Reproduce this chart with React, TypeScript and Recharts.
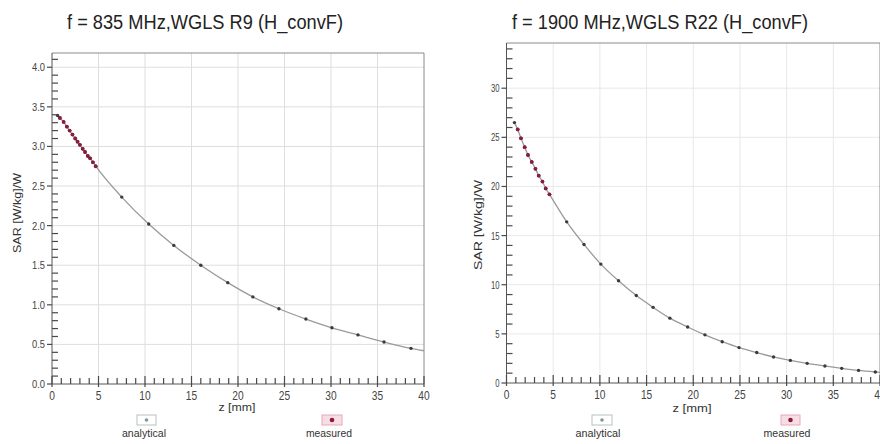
import React from 'react';
import { ComposedChart, Line, Scatter, XAxis, YAxis, ReferenceLine } from 'recharts';

// ---------- data ----------
const zMajorTicks = [0, 5, 10, 15, 20, 25, 30, 35, 40];
const leftYMajorTicks = [0, 0.5, 1.0, 1.5, 2.0, 2.5, 3.0, 3.5, 4.0];
const rightYMajorTicks = [0, 5, 10, 15, 20, 25, 30];

const leftTitle = 'f = 835 MHz,WGLS R9 (H_convF)';
const rightTitle = 'f = 1900 MHz,WGLS R22 (H_convF)';
const yAxisTitle = 'SAR [W/kg]/W';
const xAxisTitle = 'z [mm]';
const legendNames = ['analytical', 'measured'];

const left835Measured = [
  { z: 0.85, sar: 3.36 }, { z: 1.25, sar: 3.31 }, { z: 1.6, sar: 3.25 }, { z: 1.9, sar: 3.2 },
  { z: 2.2, sar: 3.15 }, { z: 2.5, sar: 3.1 }, { z: 2.75, sar: 3.06 }, { z: 3.0, sar: 3.02 },
  { z: 3.3, sar: 2.97 }, { z: 3.55, sar: 2.93 }, { z: 3.85, sar: 2.88 }, { z: 4.1, sar: 2.85 },
  { z: 4.4, sar: 2.8 }, { z: 4.7, sar: 2.75 },
];
const left835Analytical = [
  { z: 0.6, sar: 3.39 }, { z: 0.85, sar: 3.36 }, { z: 1.25, sar: 3.31 }, { z: 1.6, sar: 3.25 },
  { z: 1.9, sar: 3.2 }, { z: 2.2, sar: 3.15 }, { z: 2.5, sar: 3.1 }, { z: 2.75, sar: 3.06 },
  { z: 3.0, sar: 3.02 }, { z: 3.3, sar: 2.97 }, { z: 3.55, sar: 2.93 }, { z: 3.85, sar: 2.88 },
  { z: 4.1, sar: 2.85 }, { z: 4.4, sar: 2.8 }, { z: 4.7, sar: 2.75 }, { z: 7.5, sar: 2.36 },
  { z: 10.4, sar: 2.02 }, { z: 13.1, sar: 1.75 }, { z: 16.0, sar: 1.5 }, { z: 18.9, sar: 1.28 },
  { z: 21.6, sar: 1.1 }, { z: 24.4, sar: 0.95 }, { z: 27.3, sar: 0.82 }, { z: 30.1, sar: 0.71 },
  { z: 32.9, sar: 0.62 }, { z: 35.7, sar: 0.53 }, { z: 38.6, sar: 0.45 }, { z: 40.0, sar: 0.42 },
];

const right1900Measured = [
  { z: 1.2, sar: 25.8 }, { z: 1.55, sar: 24.9 }, { z: 1.95, sar: 24.0 }, { z: 2.3, sar: 23.2 },
  { z: 2.7, sar: 22.5 }, { z: 3.1, sar: 21.8 }, { z: 3.45, sar: 21.1 }, { z: 3.85, sar: 20.5 },
  { z: 4.2, sar: 19.8 }, { z: 4.6, sar: 19.2 },
];
const right1900Analytical = [
  { z: 0.85, sar: 26.5 }, { z: 1.2, sar: 25.8 }, { z: 1.55, sar: 24.9 }, { z: 1.95, sar: 24.0 },
  { z: 2.3, sar: 23.2 }, { z: 2.7, sar: 22.5 }, { z: 3.1, sar: 21.8 }, { z: 3.45, sar: 21.1 },
  { z: 3.85, sar: 20.5 }, { z: 4.2, sar: 19.8 }, { z: 4.6, sar: 19.2 }, { z: 6.45, sar: 16.4 },
  { z: 8.3, sar: 14.1 }, { z: 10.1, sar: 12.1 }, { z: 12.0, sar: 10.4 }, { z: 13.9, sar: 8.9 },
  { z: 15.7, sar: 7.7 }, { z: 17.5, sar: 6.6 }, { z: 19.4, sar: 5.7 }, { z: 21.25, sar: 4.9 },
  { z: 23.1, sar: 4.2 }, { z: 24.9, sar: 3.6 }, { z: 26.8, sar: 3.1 }, { z: 28.6, sar: 2.65 },
  { z: 30.4, sar: 2.3 }, { z: 32.2, sar: 2.0 }, { z: 34.1, sar: 1.73 }, { z: 35.9, sar: 1.49 },
  { z: 37.7, sar: 1.28 }, { z: 39.5, sar: 1.12 }, { z: 40.0, sar: 1.08 },
];

// minor tick positions (axis decoration only)
const zMinorTicks = Array.from({ length: 41 }, (_, i) => i);
const leftYMinorTicks = Array.from({ length: 42 }, (_, i) => +(i * 0.1).toFixed(1));
const rightYMinorTicks = Array.from({ length: 35 }, (_, i) => i);

const FONT = '"Liberation Sans", Arial, sans-serif';
const TICK_COLOR = '#4a4a4a';

const isMajor = (v: number, majors: number[]) => majors.some((m) => Math.abs(m - v) < 1e-6);

function XTick(props: any) {
  const { x, y, payload, fontSize, sx } = props;
  const v = payload.value;
  const major = isMajor(v, zMajorTicks);
  const xx = Number(x);
  const yy = Number(y);
  const up = major ? 8 : 6;
  const down = major ? 3 : 0;
  return (
    <g>
      <rect x={xx - 0.6} y={yy - up} width={1.2} height={up + down} fill={TICK_COLOR} />
      {major && (
        <text transform={`translate(${xx},${yy + 16}) scale(${sx},1)`} textAnchor="middle" fontSize={fontSize} fill="#444" fontFamily={FONT}>
          {v}
        </text>
      )}
    </g>
  );
}

function YTick(props: any) {
  const { x, y, payload, majors, fontSize, sx, decimals } = props;
  const v = payload.value;
  const major = isMajor(v, majors);
  const yy = Number(y);
  const xx = Number(x);
  const left = major ? 5 : 0;
  const right = major ? 0 : 6;
  return (
    <g>
      <rect x={xx - left} y={yy - 0.6} width={left + right} height={1.2} fill={TICK_COLOR} />
      {major && (
        <text transform={`translate(${xx - 7},${yy + 4}) scale(${sx},1)`} textAnchor="end" fontSize={fontSize} fill="#444" fontFamily={FONT}>
          {v.toFixed(decimals)}
        </text>
      )}
    </g>
  );
}

const analyticalDot = (props: any) => {
  const { cx, cy, index, payload } = props;
  if (payload.z >= 40) return <g key={`ad-${index}`} />;
  return <circle key={`ad-${index}`} cx={cx} cy={cy} r={1.7} fill="#3a3a3a" />;
};

const measuredShape = (props: any) => {
  const { cx, cy } = props;
  return <circle cx={cx} cy={cy} r={1.9} fill="#8a1c3c" />;
};

type PanelProps = {
  analytical: { z: number; sar: number }[];
  measured: { z: number; sar: number }[];
  yMax: number;
  yMajors: number[];
  yMinors: number[];
  width: number;
  margin: { top: number; right: number; bottom: number; left: number };
  xFont: number;
  xScale: number;
  yFont: number;
  yScale: number;
  decimals: number;
  gridColor: string;
};

function Panel(p: PanelProps) {
  return (
    <ComposedChart width={p.width} height={444} margin={p.margin}>
      {zMajorTicks.slice(1, -1).map((v) => (
        <ReferenceLine key={`vx-${v}`} x={v} stroke={p.gridColor} strokeWidth={1} />
      ))}
      {p.yMajors.slice(1).map((v) => (
        <ReferenceLine key={`hy-${v}`} y={v} stroke={p.gridColor} strokeWidth={1} />
      ))}
      <ReferenceLine y={p.yMax} stroke="#8a8a8a" strokeWidth={1} />
      <ReferenceLine x={40} stroke="#8a8a8a" strokeWidth={1} />
      <XAxis
        type="number"
        dataKey="z"
        domain={[0, 40]}
        ticks={zMinorTicks}
        interval={0}
        tickSize={0}
        tickMargin={0}
        tickLine={false}
        axisLine={{ stroke: '#555', strokeWidth: 1 }}
        tick={<XTick fontSize={p.xFont} sx={p.xScale} />}
        height={30}
      />
      <YAxis
        type="number"
        dataKey="sar"
        domain={[0, p.yMax]}
        ticks={p.yMinors}
        interval={0}
        tickSize={0}
        tickMargin={0}
        tickLine={false}
        axisLine={{ stroke: '#555', strokeWidth: 1 }}
        tick={<YTick majors={p.yMajors} fontSize={p.yFont} sx={p.yScale} decimals={p.decimals} />}
        width={40}
      />
      <Line
        data={p.analytical}
        dataKey="sar"
        type="monotone"
        stroke="#9a9a9a"
        strokeWidth={1.3}
        dot={analyticalDot}
        activeDot={false}
        isAnimationActive={false}
      />
      <Scatter data={p.measured} dataKey="sar" shape={measuredShape} isAnimationActive={false} />
    </ComposedChart>
  );
}

function LegendItem({ x, y, boxW, kind, label, tx, tLen }: any) {
  const measured = kind === 'measured';
  return (
    <g>
      <rect x={x} y={y} width={boxW} height={10} fill={measured ? '#f8dde5' : '#ffffff'} stroke={measured ? '#e6a9b8' : '#b5c2c2'} strokeWidth={1} />
      <circle cx={x + boxW / 2} cy={y + 5} r={measured ? 2.3 : 1.8} fill={measured ? '#8a1c3c' : '#7d9a9a'} />
      <text x={tx} y={y + 22} textAnchor="middle" fontSize={10} fill="#333" fontFamily={FONT} textLength={tLen} lengthAdjust="spacingAndGlyphs">
        {label}
      </text>
    </g>
  );
}

export default function App() {
  return (
    <div style={{ position: 'fixed', left: 0, top: 0, width: 880, height: 444, overflow: 'hidden', background: '#fff', fontFamily: FONT }}>
      <div style={{ position: 'absolute', left: 0, top: 0 }}>
        <Panel
          analytical={left835Analytical}
          measured={left835Measured}
          yMax={4.18}
          yMajors={leftYMajorTicks}
          yMinors={leftYMinorTicks}
          width={440}
          margin={{ top: 53, right: 16, bottom: 30, left: 12 }}
          xFont={12}
          xScale={0.85}
          yFont={11}
          yScale={0.85}
          decimals={1}
          gridColor="#dedede"
        />
      </div>
      <div style={{ position: 'absolute', left: 440, top: 0 }}>
        <Panel
          analytical={right1900Analytical}
          measured={right1900Measured}
          yMax={34.6}
          yMajors={rightYMajorTicks}
          yMinors={rightYMinorTicks}
          width={460}
          margin={{ top: 43, right: 20, bottom: 31, left: 26.5 }}
          xFont={12}
          xScale={0.85}
          yFont={11}
          yScale={0.7}
          decimals={0}
          gridColor="#e8e8e8"
        />
      </div>
      <svg width={880} height={444} style={{ position: 'absolute', left: 0, top: 0, pointerEvents: 'none' }}>
        <text x={205} y={29} textAnchor="middle" fontSize={20} fill="#222" fontFamily={FONT} textLength={276} lengthAdjust="spacingAndGlyphs">
          {leftTitle}
        </text>
        <text x={660} y={29} textAnchor="middle" fontSize={20} fill="#222" fontFamily={FONT} textLength={296} lengthAdjust="spacingAndGlyphs">
          {rightTitle}
        </text>
        <text x={17} y={213} transform="rotate(-90 17 213)" textAnchor="middle" dominantBaseline="central" fontSize={10} fill="#333" fontFamily={FONT} textLength={80} lengthAdjust="spacingAndGlyphs">
          {yAxisTitle}
        </text>
        <text x={478} y={225} transform="rotate(-90 478 225)" textAnchor="middle" dominantBaseline="central" fontSize={10} fill="#333" fontFamily={FONT} textLength={90} lengthAdjust="spacingAndGlyphs">
          {yAxisTitle}
        </text>
        <text x={237} y={411} textAnchor="middle" fontSize={11} fill="#333" fontFamily={FONT} textLength={37} lengthAdjust="spacingAndGlyphs">
          {xAxisTitle}
        </text>
        <text x={692} y={412} textAnchor="middle" fontSize={11} fill="#333" fontFamily={FONT} textLength={39} lengthAdjust="spacingAndGlyphs">
          {xAxisTitle}
        </text>
        <LegendItem x={137} y={415} boxW={19} kind="analytical" label={legendNames[0]} tx={144} tLen={44} />
        <LegendItem x={322} y={415} boxW={20} kind="measured" label={legendNames[1]} tx={329} tLen={46} />
        <LegendItem x={592} y={415} boxW={20} kind="analytical" label={legendNames[0]} tx={598} tLen={45} />
        <LegendItem x={781} y={415} boxW={19} kind="measured" label={legendNames[1]} tx={787} tLen={47} />
      </svg>
    </div>
  );
}
